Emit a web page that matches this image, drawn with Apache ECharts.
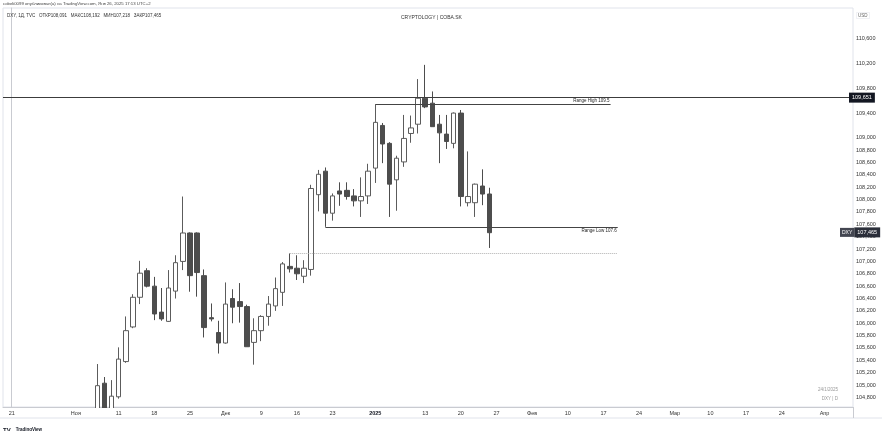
<!DOCTYPE html>
<html><head><meta charset="utf-8">
<script src="https://cdn.jsdelivr.net/npm/echarts@6/dist/echarts.min.js"></script>
<style>html,body{margin:0;padding:0;background:#fff}#c{width:882px;height:431px}</style>
</head><body><div id="c"></div>
<script>
// ---- data (DXY daily, TVC) ----
const dates = ['2024-11-06','2024-11-07','2024-11-08','2024-11-11','2024-11-12','2024-11-13','2024-11-14','2024-11-15',
 '2024-11-18','2024-11-19','2024-11-20','2024-11-21','2024-11-22','2024-11-25','2024-11-26','2024-11-27','2024-11-28','2024-11-29',
 '2024-12-02','2024-12-03','2024-12-04','2024-12-05','2024-12-06','2024-12-09','2024-12-10','2024-12-11','2024-12-12','2024-12-13',
 '2024-12-16','2024-12-17','2024-12-18','2024-12-19','2024-12-20','2024-12-23','2024-12-24','2024-12-26','2024-12-27','2024-12-30','2024-12-31',
 '2025-01-02','2025-01-03','2025-01-06','2025-01-07','2025-01-08','2025-01-09','2025-01-10','2025-01-13','2025-01-14','2025-01-15',
 '2025-01-16','2025-01-17','2025-01-20','2025-01-21','2025-01-22','2025-01-23','2025-01-24'];
const opens  = [103.50,105.03,104.50,104.81,105.38,105.94,106.42,106.85,106.60,106.18,106.03,106.52,107.00,107.46,107.46,106.77,106.09,105.85,
 105.68,106.40,106.35,106.27,105.69,105.88,106.11,106.28,106.50,106.92,106.89,106.76,106.87,108.08,108.46,107.78,108.14,108.15,108.06,107.98,108.06,
 108.51,109.20,108.91,108.32,108.61,109.07,109.22,109.64,109.56,109.22,109.06,108.91,109.40,107.95,107.95,108.22,108.091];
const closes = [104.99,104.50,104.82,105.42,105.88,106.42,106.81,106.60,106.15,106.07,106.57,106.98,107.46,106.77,106.82,105.93,106.07,105.68,
 106.31,106.26,106.27,105.62,105.88,106.11,106.31,106.56,106.96,106.88,106.80,106.89,108.18,108.41,107.78,108.06,108.09,108.05,107.98,108.05,108.46,
 109.25,108.90,108.25,108.67,108.99,109.16,109.64,109.50,109.18,109.08,108.94,109.40,108.05,108.05,108.25,108.09,107.465];
const lows   = [103.40,104.40,104.40,104.78,105.36,105.92,106.31,106.58,106.05,106.04,106.02,106.40,106.86,106.51,106.43,105.77,106.03,105.51,
 105.67,106.00,106.01,105.62,105.33,105.71,105.96,106.20,106.28,106.82,106.70,106.65,106.77,107.81,107.56,107.66,107.90,108.00,107.89,107.72,107.93,
 108.27,108.59,107.72,107.82,108.53,108.92,109.07,109.48,109.18,108.59,108.82,108.83,107.89,107.89,107.72,107.91,107.218];
const highs  = [105.34,105.13,105.08,105.61,106.11,106.47,107.01,106.89,106.75,106.57,106.86,107.10,108.05,107.47,107.47,106.87,106.32,106.04,
 106.66,106.55,106.65,106.30,106.08,106.13,106.44,106.74,106.99,107.13,107.10,107.02,108.24,108.48,108.52,108.10,108.28,108.28,108.17,108.36,108.58,
 109.54,109.24,108.93,108.71,109.37,109.36,109.95,110.18,109.75,109.37,109.37,109.41,109.45,108.78,108.26,108.49,108.192];

const holidays = ['2024-12-25','2025-01-01'];
const calendarStart = '2024-10-21';
const calendarEnd = '2025-04-04';

const xTickDates  = ['2024-10-21','2024-11-01','2024-11-11','2024-11-18','2024-11-25','2024-12-02','2024-12-09','2024-12-16','2024-12-23',
 '2025-01-02','2025-01-13','2025-01-20','2025-01-27','2025-02-03','2025-02-10','2025-02-17','2025-02-24','2025-03-03','2025-03-10',
 '2025-03-17','2025-03-24','2025-04-01'];
const xTickLabels = ['21','Ноя','11','18','25','Дек','9','16','23','2025','13','20','27','Фев','10','17','24','Мар','10','17','24','Апр'];
const yTickValues = [104.8,105.0,105.2,105.4,105.6,105.8,106.0,106.2,106.4,106.6,106.8,107.0,107.2,107.4,107.6,107.8,108.0,108.2,108.4,108.6,108.8,109.0,109.4,109.8,110.2,110.6];

const horizontalLevel = 109.651;
const lastPrice = 107.465;
const rangeHighValue = 109.54, rangeHighLabel = 'Range High 109.5', rangeHighFrom = '2025-01-02', rangeHighTo = '2025-02-18';
const rangeLowValue = 107.56, rangeLowLabel = 'Range Low 107.6', rangeLowFrom = '2024-12-20', rangeLowTo = '2025-02-19';
const dottedValue = 107.13, dottedFrom = '2024-12-13', dottedTo = '2025-02-19';

// ---- calendar of trading days (weekdays without holidays) ----
const tradingDays = [];
for (let t = Date.parse(calendarStart + 'T00:00:00Z'); t <= Date.parse(calendarEnd + 'T00:00:00Z'); t += 86400000) {
  const d = new Date(t); const wd = d.getUTCDay(); const s = d.toISOString().slice(0, 10);
  if (wd !== 0 && wd !== 6 && holidays.indexOf(s) < 0) tradingDays.push(s);
}
const idx = s => tradingDays.indexOf(s);
const fmt = v => v.toFixed(3).replace('.', ',');

const candleData = dates.map((d, k) => [idx(d), opens[k], closes[k], lows[k], highs[k]]);
const xTickIdx = xTickDates.map(idx);
const X_MIN = -1.22, X_MAX = 118.0, Y_MIN = 104.645, Y_MAX = 111.1;

const FONT = '"Liberation Sans", Arial, sans-serif';
const chart = echarts.init(document.getElementById('c'), null, {renderer: 'canvas'});
chart.setOption({
  animation: false,
  backgroundColor: '#ffffff',
  textStyle: {fontFamily: FONT},
  title: [
    {text: 'cobeli0099 опубликовал(а) на TradingView.com, Янв 26, 2025 17:13 UTC+2', left: 3, top: 2, padding: 0,
     textStyle: {fontSize: 4.3, color: '#444', fontWeight: 'normal', fontFamily: FONT}},
    {text: 'DXY, 1Д, TVC   ОТКР108,091   МАКС108,192   МИН107,218   ЗАКР107,465', left: 7, top: 13, padding: 0,
     textStyle: {fontSize: 4.5, color: '#333', fontWeight: 'normal', fontFamily: FONT}},
    {text: 'CRYPTOLOGY | COBA.SK', left: 401, top: 15, padding: 0,
     textStyle: {fontSize: 5, color: '#333', fontWeight: 'normal', fontFamily: FONT}},
    {text: 'USD', left: 856, top: 12, padding: [1, 2], borderColor: '#e0e3eb', borderWidth: 0.5,
     textStyle: {fontSize: 4.5, color: '#666', fontWeight: 'normal', fontFamily: FONT}},
    {text: '24/1/2025', right: 44, top: 387, padding: 0,
     textStyle: {fontSize: 4.5, color: '#999', fontWeight: 'normal', fontFamily: FONT}},
    {text: 'DXY | D', right: 44, top: 396, padding: 0,
     textStyle: {fontSize: 4.5, color: '#999', fontWeight: 'normal', fontFamily: FONT}},
    {text: '{l|TV} {t|TradingView}', left: 3, top: 421, padding: 0,
     textStyle: {rich: {l: {fontSize: 6, fontWeight: 'bold', color: '#131722'}, t: {fontSize: 4.5, color: '#131722'}}}}
  ],
  grid: {left: 3, right: 29, top: 8, bottom: 24, show: true, borderColor: '#e0e3eb', borderWidth: 1},
  xAxis: {
    type: 'value', min: X_MIN, max: X_MAX,
    axisLine: {show: true, lineStyle: {color: '#c9cbd1'}},
    axisTick: {show: false},
    splitLine: {show: false},
    axisLabel: {
      customValues: xTickIdx, margin: 3, fontSize: 5.5, color: '#333', fontFamily: FONT,
      formatter: v => { const k = xTickIdx.indexOf(v); if (k < 0) return ''; const s = xTickLabels[k]; return s === '2025' ? '{b|' + s + '}' : s; },
      rich: {b: {fontWeight: 'bold', fontSize: 5.5, color: '#131722'}}
    }
  },
  yAxis: {
    type: 'value', position: 'right', min: Y_MIN, max: Y_MAX, scale: true,
    axisLine: {show: true, lineStyle: {color: '#c9cbd1'}},
    axisTick: {show: false},
    splitLine: {show: false},
    axisLabel: {customValues: yTickValues, margin: 3, fontSize: 5.5, color: '#333', fontFamily: FONT, formatter: v => fmt(v)}
  },
  series: [{
    type: 'candlestick',
    data: candleData,
    barWidth: 5,
    clip: true,
    itemStyle: {color: '#ffffff', color0: '#4d4d4d', borderColor: '#5c5c5c', borderColor0: '#4d4d4d', borderColorDoji: '#4d4d4d', borderWidth: 1},
    markLine: {
      silent: true, symbol: ['none', 'none'], animation: false,
      data: [
        {yAxis: horizontalLevel, lineStyle: {color: '#3c3c3c', width: 1, type: 'solid'},
         label: {show: true, position: 'end', distance: -4, formatter: fmt(horizontalLevel), backgroundColor: '#131722', color: '#fff', padding: [2, 3], fontSize: 5.5}},
        {yAxis: lastPrice, lineStyle: {color: 'rgba(0,0,0,0)', width: 0},
         label: {show: true, position: 'end', distance: -13, formatter: '{a|DXY}{b|' + fmt(lastPrice) + '}',
                 rich: {a: {backgroundColor: '#434651', color: '#fff', padding: [2, 2], fontSize: 5},
                        b: {backgroundColor: '#2a2e39', color: '#fff', padding: [2, 3], fontSize: 5.5}}}},
        [{coord: [idx(rangeHighFrom), rangeHighValue], lineStyle: {color: '#444', width: 1, type: 'solid'},
          label: {show: true, position: 'insideEndTop', distance: [1, 1], formatter: rangeHighLabel, fontSize: 4.5, color: '#222'}},
         {coord: [idx(rangeHighTo), rangeHighValue]}],
        [{coord: [idx(rangeLowFrom), rangeLowValue], lineStyle: {color: '#444', width: 1, type: 'solid'},
          label: {show: true, position: 'insideEndBottom', distance: [1, 1], formatter: rangeLowLabel, fontSize: 4.5, color: '#222'}},
         {coord: [idx(rangeLowTo), rangeLowValue]}],
        [{coord: [idx(dottedFrom), dottedValue], lineStyle: {color: '#b0b0b0', width: 1, type: 'dotted'}, label: {show: false}},
         {coord: [idx(dottedTo), dottedValue]}]
      ]
    }
  }]
});

// mask the parts of candles that hang below the price pane (the pane clips them in the original)
const pA = chart.convertToPixel({gridIndex: 0}, [X_MIN, Y_MIN]);
const pB = chart.convertToPixel({gridIndex: 0}, [X_MAX, Y_MIN]);
const H = chart.getHeight(), W = chart.getWidth();
const firstIdx = candleData[0][0], lastLowIdx = candleData[3][0];
const mA = chart.convertToPixel({gridIndex: 0}, [firstIdx - 0.6, Y_MIN]);
const mB = chart.convertToPixel({gridIndex: 0}, [lastLowIdx - 0.4, Y_MIN]);
chart.setOption({
  graphic: [
    {id: 'mask', type: 'rect', z: 50, silent: true, shape: {x: mA[0], y: pA[1] + 1, width: mB[0] - mA[0], height: H - pA[1]}, style: {fill: '#ffffff'}},
    {id: 'tlBottom', type: 'line', z: 60, silent: true, shape: {x1: 0, y1: pA[1] + 11, x2: W, y2: pA[1] + 11}, style: {stroke: '#e0e3eb', lineWidth: 1}},
    {id: 'axSep', type: 'line', z: 60, silent: true, shape: {x1: pB[0] + 0.5, y1: pB[1], x2: pB[0] + 0.5, y2: pB[1] + 11}, style: {stroke: '#c9cbd1', lineWidth: 1}}
  ]
});
</script></body></html>
